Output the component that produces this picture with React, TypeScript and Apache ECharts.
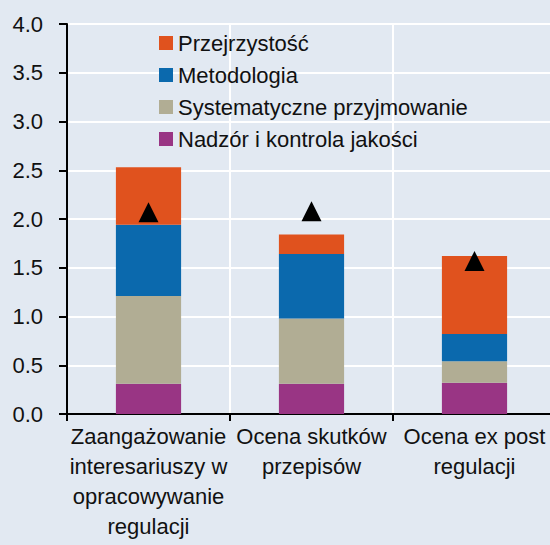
import React, { useEffect, useRef } from "react";
import * as echarts from "echarts";

const categories = [
  "Zaangażowanie\ninteresariuszy w\nopracowywanie\nregulacji",
  "Ocena skutków\nprzepisów",
  "Ocena ex post\nregulacji",
];
const nadzor = [0.31, 0.31, 0.32];
const systematyczne = [0.9, 0.67, 0.22];
const metodologia = [0.73, 0.66, 0.28];
const przejrzystosc = [0.59, 0.2, 0.8];
const total = [2.07, 2.08, 1.57];
const legendOrder = ["Przejrzystość", "Metodologia", "Systematyczne przyjmowanie", "Nadzór i kontrola jakości"];

const FONT = "'Liberation Sans', Arial, sans-serif";
const TXT = "#111111";
const FS = 22;

export default function App() {
  const ref = useRef<HTMLDivElement>(null);
  useEffect(() => {
    if (!ref.current) return;
    const chart = echarts.init(ref.current, undefined, { renderer: "svg" });
    const barCommon = { type: "bar", stack: "s", barWidth: "40%" };
    chart.setOption({
      animation: false,
      backgroundColor: "#e2e9f2",
      textStyle: { fontFamily: FONT },
      grid: { left: 67, top: 24, right: 4, bottom: 131 },
      legend: {
        data: legendOrder,
        orient: "vertical",
        left: 159,
        top: 32,
        padding: 0,
        itemWidth: 14,
        itemHeight: 14,
        itemGap: 10,
        icon: "rect",
        textStyle: { fontSize: FS, color: TXT, fontFamily: FONT, lineHeight: 22 },
      },
      xAxis: {
        type: "category",
        data: categories,
        axisLine: { lineStyle: { color: "#000", width: 2 } },
        axisTick: { show: true, length: 7, lineStyle: { color: "#000", width: 2 } },
        splitLine: { show: true, lineStyle: { color: "#ffffff", width: 2 } },
        axisLabel: { fontSize: FS, color: TXT, fontFamily: FONT, lineHeight: 30, margin: 7, interval: 0 },
      },
      yAxis: {
        type: "value",
        min: 0,
        max: 4,
        interval: 0.5,
        axisLine: { show: true, lineStyle: { color: "#000", width: 2 } },
        axisTick: { show: true, length: 8, lineStyle: { color: "#000", width: 2 } },
        splitLine: { show: true, lineStyle: { color: "#ffffff", width: 2 } },
        axisLabel: {
          fontSize: FS,
          color: TXT,
          fontFamily: FONT,
          margin: 24,
          formatter: (v: number) => v.toFixed(1),
        },
      },
      series: [
        { ...barCommon, name: "Nadzór i kontrola jakości", data: nadzor, itemStyle: { color: "#993584" } },
        { ...barCommon, name: "Systematyczne przyjmowanie", data: systematyczne, itemStyle: { color: "#b1ad94" } },
        { ...barCommon, name: "Metodologia", data: metodologia, itemStyle: { color: "#0b69ad" } },
        { ...barCommon, name: "Przejrzystość", data: przejrzystosc, itemStyle: { color: "#e0521e" } },
        {
          type: "scatter",
          name: "Ogółem",
          data: total,
          symbol: "triangle",
          symbolSize: [20, 20],
          itemStyle: { color: "#000000", opacity: 1 },
          z: 10,
        },
      ],
    });
    return () => chart.dispose();
  }, []);
  return (
    <div style={{ position: "fixed", left: 0, top: 0, width: 550, height: 545, overflow: "hidden", background: "#e2e9f2" }}>
      <div ref={ref} style={{ position: "absolute", left: 0, top: 0, width: 560, height: 545 }} />
    </div>
  );
}
